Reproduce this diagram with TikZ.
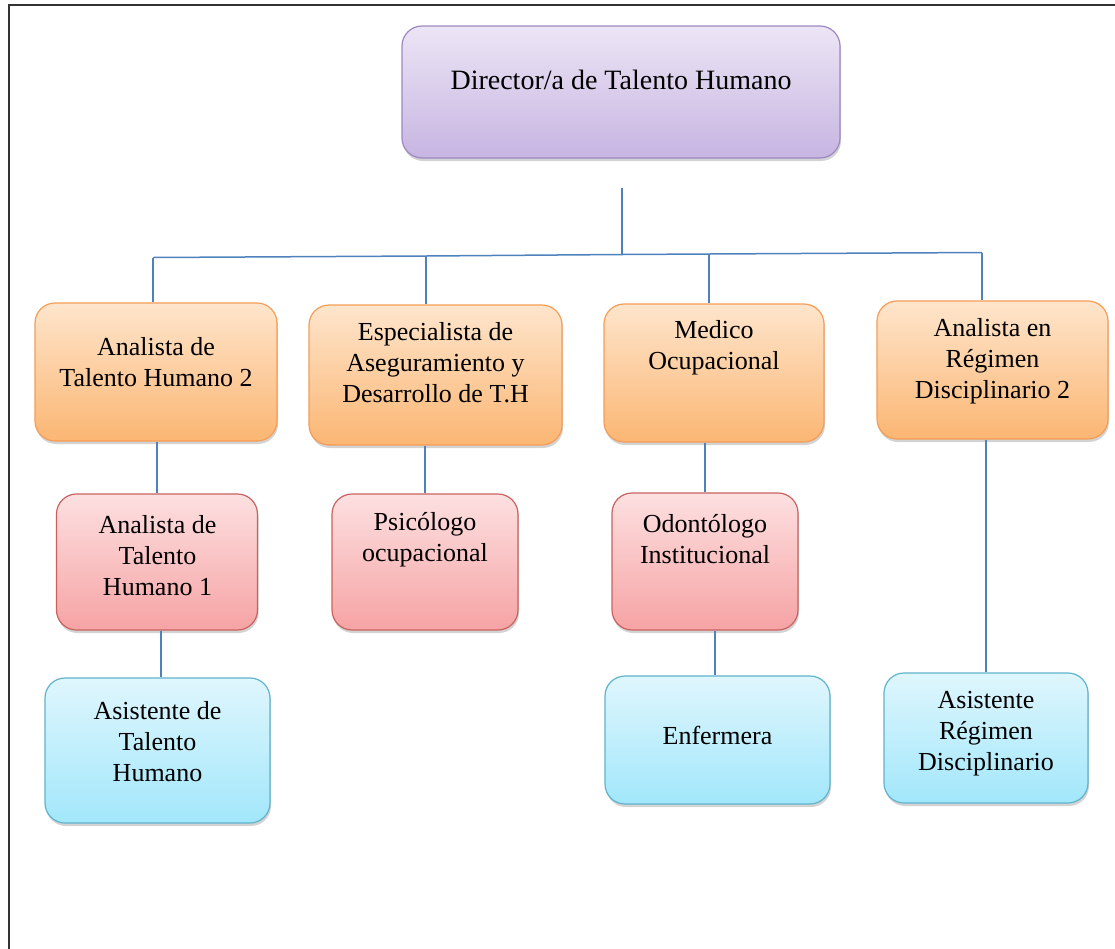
\documentclass[tikz,border=0pt]{standalone}
\usepackage{fontspec}
\setmainfont{Liberation Serif}
\usepackage{tikz}
\usetikzlibrary{shadows}
\definecolor{linkblue}{HTML}{4F81BD}
\definecolor{purpletop}{HTML}{ECE5F5}
\definecolor{purplebot}{HTML}{C7B5E2}
\definecolor{purpleline}{HTML}{9C88C2}
\definecolor{orangetop}{HTML}{FEE5CC}
\definecolor{orangebot}{HTML}{FBB673}
\definecolor{orangeline}{HTML}{F59D56}
\definecolor{redtop}{HTML}{FDE0E1}
\definecolor{redbot}{HTML}{F6A3A4}
\definecolor{redline}{HTML}{C9625F}
\definecolor{bluetop}{HTML}{DFF6FD}
\definecolor{bluebot}{HTML}{A2E7FB}
\definecolor{blueline}{HTML}{5FB3CC}
\tikzset{
  box/.style = {rounded corners=20pt, inner sep=0pt, line width=1.2pt,
    drop shadow={shadow xshift=1pt, shadow yshift=-3pt, opacity=.35}},
  purplebox/.style = {box, draw=purpleline, top color=purpletop, bottom color=purplebot},
  orangebox/.style = {box, draw=orangeline, top color=orangetop, bottom color=orangebot},
  redbox/.style = {box, draw=redline, top color=redtop, bottom color=redbot},
  bluebox/.style = {box, draw=blueline, top color=bluetop, bottom color=bluebot},
  txt/.style = {align=center, inner sep=0pt, font=\fontsize{26}{31}\selectfont},
  link/.style = {draw=linkblue, line width=1.5pt}
}

\begin{document}
\begin{tikzpicture}[x=1pt, y=-1pt]
  \useasboundingbox (0,0) rectangle (1115,948);
  % frame
  \draw[line width=2pt, black!80] (9,5) rectangle (1130,960);

  % top box
  \node[purplebox, minimum width=438pt, minimum height=132pt] (dir) at (621,92) {};
  \node[txt, font=\fontsize{28}{31}\selectfont] (dir-t) at (621,80) {Director/a de Talento Humano};

  % second row
  \node[orangebox, minimum width=242pt, minimum height=138pt] (ath2) at (156,372) {};
  \node[txt] (ath2-t) at (156,362) {Analista de\\Talento Humano 2};
  \node[orangebox, minimum width=253pt, minimum height=140pt] (esp) at (435.5,375) {};
  \node[txt] (esp-t) at (435.5,363) {Especialista de\\Aseguramiento y\\Desarrollo de T.H};
  \node[orangebox, minimum width=220pt, minimum height=138pt] (med) at (714,373) {};
  \node[txt] (med-t) at (714,348) {Medico\\Ocupacional};
  \node[orangebox, minimum width=231pt, minimum height=138pt] (reg) at (992.5,370) {};
  \node[txt] (reg-t) at (992.5,361) {Analista en\\Régimen\\Disciplinario 2};

  % third row
  \node[redbox, minimum width=201pt, minimum height=136pt] (ath1) at (157,562) {};
  \node[txt] (ath1-t) at (157.5,556) {Analista de\\Talento\\Humano 1};
  \node[redbox, minimum width=186pt, minimum height=136pt] (psi) at (425,562) {};
  \node[txt] (psi-t) at (425,539.5) {Psicólogo\\ocupacional};
  \node[redbox, minimum width=186pt, minimum height=137pt] (odo) at (705,561.5) {};
  \node[txt] (odo-t) at (705,539) {Odontólogo\\Institucional};

  % fourth row
  \node[bluebox, minimum width=225pt, minimum height=145pt] (asth) at (157.5,750.5) {};
  \node[txt] (asth-t) at (157.5,742) {Asistente de\\Talento\\Humano};
  \node[bluebox, minimum width=225pt, minimum height=128pt] (enf) at (717.5,740) {};
  \node[txt] (enf-t) at (717.5,735) {Enfermera};
  \node[bluebox, minimum width=204pt, minimum height=130pt] (asreg) at (986,738) {};
  \node[txt] (asreg-t) at (986,734) {Asistente\\Régimen\\Disciplinario};

  % bus below the director
  \coordinate (top) at (622,188);
  \coordinate (j1) at (153,257.5);
  \coordinate (j2) at (426,256);
  \coordinate (j0) at (622,254.5);
  \coordinate (j3) at (709,254);
  \coordinate (j4) at (982,252.5);
  \draw[link] (top) -- (j0);
  \draw[link] (j1) -- (j2) -- (j0) -- (j3) -- (j4);
  \draw[link] (j1) -- (j1 |- ath2.north);
  \draw[link] (j2) -- (j2 |- esp.north);
  \draw[link] (j3) -- (j3 |- med.north);
  \draw[link] (j4) -- (j4 |- reg.north);

  % lower links
  \draw[link] (ath2.south -| ath1) -- (ath1.north);
  \draw[link] (esp.south -| psi) -- (psi.north);
  \draw[link] (med.south -| odo) -- (odo.north);
  \draw[link] (reg.south -| asreg) -- (asreg.north);
  \draw[link] ([xshift=4pt]ath1.south) -- ([xshift=4pt]ath1.south |- asth.north);
  \draw[link] ([xshift=10pt]odo.south) -- ([xshift=10pt]odo.south |- enf.north);
\end{tikzpicture}
\end{document}
